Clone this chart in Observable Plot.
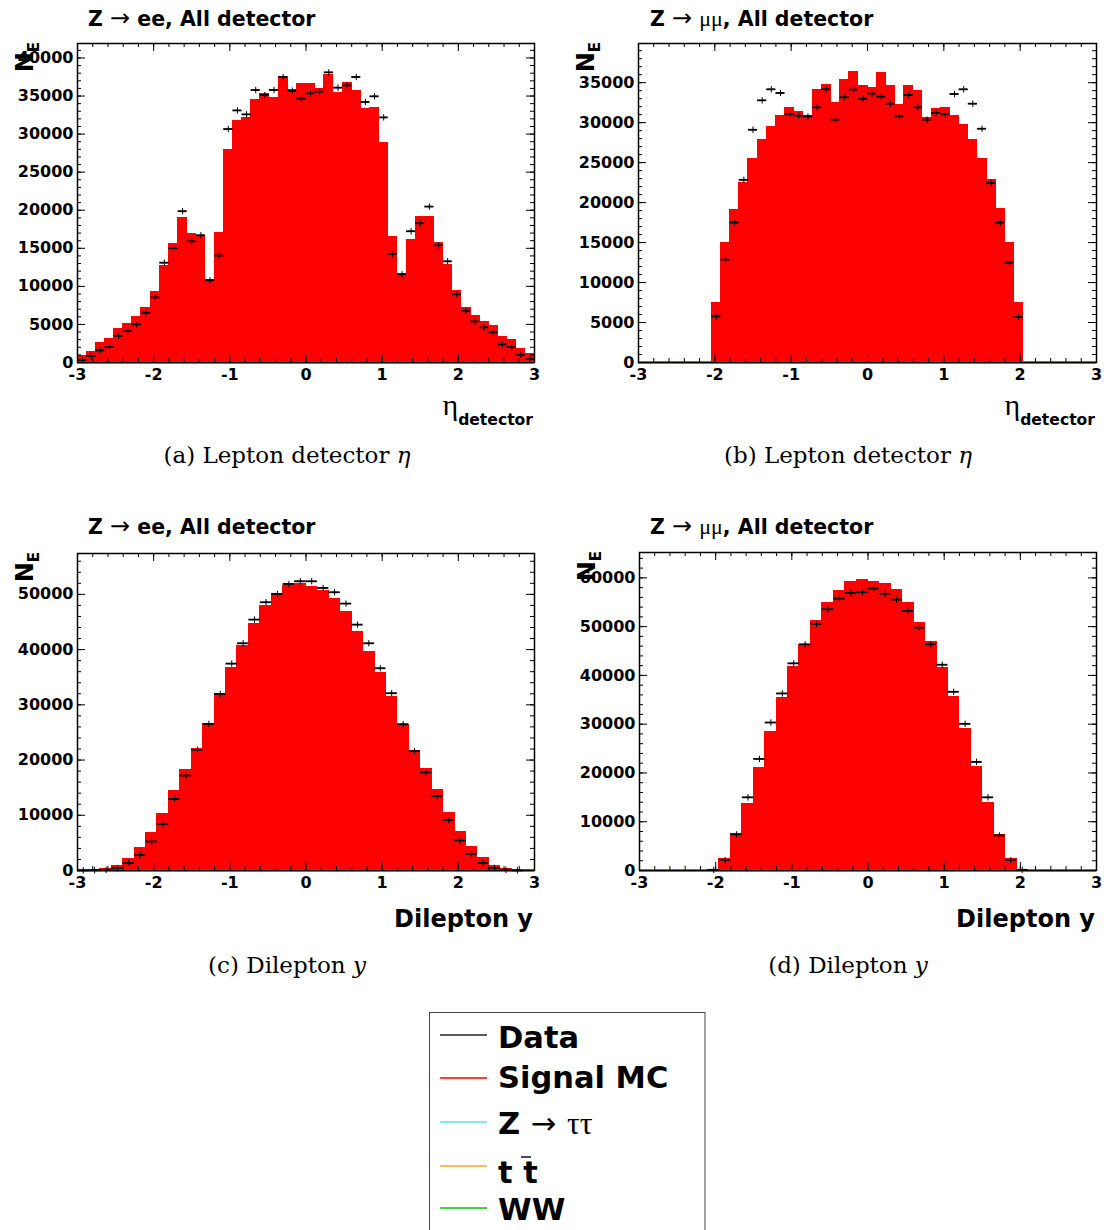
<!DOCTYPE html>
<html><head><meta charset="utf-8">
<script src="https://cdn.jsdelivr.net/npm/d3@7"></script>
<script src="https://cdn.jsdelivr.net/npm/@observablehq/plot@0.6"></script>
<style>
body{margin:0;background:#fff;}
#page{position:relative;width:1112px;height:1230px;overflow:hidden;background:#fff;}
.panel{position:absolute;}
#overlay{position:absolute;left:0;top:0;pointer-events:none;}
</style></head><body><div id="page"></div>
<script>
// ---- bins (lower edges) ----
const etaLow = [-3,-2.88,-2.76,-2.64,-2.52,-2.4,-2.28,-2.16,-2.04,-1.92,-1.8,-1.68,-1.56,-1.44,-1.32,-1.2,-1.08,-0.96,-0.84,-0.72,-0.6,-0.48,-0.36,-0.24,-0.12,0,0.12,0.24,0.36,0.48,0.6,0.72,0.84,0.96,1.08,1.2,1.32,1.44,1.56,1.68,1.8,1.92,2.04,2.16,2.28,2.4,2.52,2.64,2.76,2.88];
const etaWidth = 0.12;
const yLow = [-3,-2.85,-2.7,-2.55,-2.4,-2.25,-2.1,-1.95,-1.8,-1.65,-1.5,-1.35,-1.2,-1.05,-0.9,-0.75,-0.6,-0.45,-0.3,-0.15,0,0.15,0.3,0.45,0.6,0.75,0.9,1.05,1.2,1.35,1.5,1.65,1.8,1.95,2.1,2.25,2.4,2.55,2.7,2.85];
const yWidth = 0.15;

// ---- (a) Z->ee lepton detector eta ----
const eeEtaMC = [830,1400,2590,3070,4390,5000,5920,7110,9300,12630,15570,19040,16900,16600,10830,17060,27900,31710,32100,34520,35260,34740,37460,35840,36540,36540,35920,37810,35400,36670,35700,33250,33420,28860,16540,11620,16140,19170,19170,15660,12850,9390,7110,6050,5260,4740,3330,2940,1710,1100];
const eeEtaData = [310,830,1580,2060,3510,4120,5000,6540,8550,13110,15000,19870,15920,16710,10790,14040,30660,33110,32590,35790,35130,35790,37500,35700,34650,35350,35570,38110,36100,36400,37500,34210,34960,32190,14250,11580,17240,18290,20480,15390,13290,8950,6800,5390,4610,3950,2370,2020,1010,440];

// ---- (b) Z->mumu lepton detector eta ----
const mmEtaMC = [0,0,0,0,0,0,0,0,7435,15000,19130,22510,25440,27820,29490,30830,31870,31290,30830,34130,34670,32460,35380,36340,34540,34290,36260,34540,32250,34540,34000,30620,31660,31790,30830,29700,27860,25440,22850,19260,15000,7435,0,0,0,0,0,0,0,0];
const mmEtaData = [0,0,0,0,0,0,0,0,5760,12870,17500,22850,29110,32790,34170,33710,31040,30870,30780,31910,34170,30370,33170,34130,33000,33630,33250,32370,30780,33460,31910,30370,31200,31040,33580,34170,32370,29240,22470,17500,12490,5680,0,0,0,0,0,0,0,0];

// ---- (c) Z->ee dilepton y ----
const eeYMC = [50,120,300,900,2110,4100,6760,10260,14480,18280,21960,26610,31970,36740,40720,44580,47960,50070,51460,51880,51400,50680,49230,46820,43140,39520,35720,31490,26300,21720,18340,14600,10440,7060,4340,2290,900,300,120,60];
const eeYData = [20,60,120,420,1390,2780,5250,8390,12970,17190,21840,26550,31970,37460,41140,45430,48570,50070,51880,52370,52370,51160,50380,48330,44520,41140,36620,32100,26490,21600,17740,13450,9110,5430,2960,1390,480,120,20,0];

// ---- (d) Z->mumu dilepton y ----
const mmYMC = [0,0,0,0,0,0,40,2400,7400,13560,20960,28360,35410,41710,46300,51100,54860,57260,59180,59590,59250,58700,57470,54860,50820,46850,41440,35550,28970,21160,13840,7190,2400,40,0,0,0,0,0,0];
const mmYData = [0,0,0,0,0,0,140,2120,7400,15000,22880,30340,36300,42470,46370,50550,53560,55750,56920,57050,57810,56710,55550,53220,49790,46370,42190,36640,30070,22260,15000,7190,2120,140,0,0,0,0,0,0];

// ---- ticks / labels ----
const xTickLabels = [-3,-2,-1,0,1,2,3];
const yTicks5k = [0,5000,10000,15000,20000,25000,30000,35000,40000];
const yTicks10k = [0,10000,20000,30000,40000,50000,60000];
const titles = ["Z", "All detector"];
const captions = ["(a) Lepton detector ", "(b) Lepton detector ", "(c) Dilepton ", "(d) Dilepton "];
const legendLabels = ["Data", "Signal MC", "Z → ττ", "t t", "WW"];
const legendColors = ["#222222", "#ff0000", "#66dede", "#ffa726", "#00c800"];

const SANS = "DejaVu Sans";
const page = document.getElementById("page");

function makePanel(cfg) {
  const W = 556, H = 430;
  const {low, width, mc, data, yMax, yMajor, yMinorStep, left, top, ml, mr, mt, mb, xlab} = cfg;
  const rows = low.map((l, i) => ({x1: l, x2: +(l + width).toFixed(3), xc: l + width / 2, mc: mc[i], data: data[i]}));
  const drows = rows.filter(r => r.data > 0);
  const pw = W - ml - mr, ph = H - mt - mb;
  const xMinor = d3.range(-30, 31, 2).map(d => d / 10);
  const yMinor = d3.range(0, yMax, yMinorStep);
  const svg = Plot.plot({
    width: W, height: H,
    marginLeft: ml, marginRight: mr, marginTop: mt, marginBottom: mb,
    style: {fontFamily: SANS, fontWeight: "bold", fontSize: "16px", color: "black", background: "transparent", overflow: "visible"},
    x: {domain: [-3, 3], ticks: xTickLabels, tickSize: 0, tickPadding: 6, tickFormat: d => String(d), label: null},
    y: {domain: [0, yMax], ticks: yMajor, tickSize: 0, tickPadding: 4, tickFormat: d => String(d), label: null},
    marks: [
      Plot.rectY(rows, {x1: "x1", x2: "x2", y: "mc", fill: "#ff0000", stroke: "#ff0000", strokeWidth: 1, shapeRendering: "crispEdges"}),
      Plot.ruleY([0], {stroke: "#00c800", strokeWidth: 2.6}),
      Plot.ruleY(drows, {y: "data", x1: "x1", x2: "x2", stroke: "black", strokeWidth: 1.8}),
      Plot.dot(drows, {x: "xc", y: "data", symbol: "plus", r: 2.2, stroke: "black", strokeWidth: 1}),
      // inward ticks, x
      Plot.tickX(xTickLabels, {x: d => d, stroke: "black", strokeWidth: 1, insetTop: ph - 8}),
      Plot.tickX(xTickLabels, {x: d => d, stroke: "black", strokeWidth: 1, insetBottom: ph - 8}),
      Plot.tickX(xMinor, {x: d => d, stroke: "black", strokeWidth: 1, insetTop: ph - 4}),
      Plot.tickX(xMinor, {x: d => d, stroke: "black", strokeWidth: 1, insetBottom: ph - 4}),
      // inward ticks, y
      Plot.tickY(yMajor, {y: d => d, stroke: "black", strokeWidth: 1, insetRight: pw - 8}),
      Plot.tickY(yMajor, {y: d => d, stroke: "black", strokeWidth: 1, insetLeft: pw - 8}),
      Plot.tickY(yMinor, {y: d => d, stroke: "black", strokeWidth: 1, insetRight: pw - 4}),
      Plot.tickY(yMinor, {y: d => d, stroke: "black", strokeWidth: 1, insetLeft: pw - 4}),
      Plot.frame({stroke: "black", strokeWidth: 1.5})
    ]
  });
  const s = d3.select(svg);
  // y-axis title N_E (rotated)
  const yl = s.append("text")
    .attr("transform", `translate(${ml - 44},${mt - 1}) rotate(-90)`)
    .attr("text-anchor", "end")
    .style("font-family", SANS).style("font-weight", "bold").attr("fill", "black");
  yl.append("tspan").attr("font-size", 24).text("N");
  yl.append("tspan").attr("font-size", 15).attr("dy", 6).text("E");
  // x-axis title
  const xr = W - mr - 1;
  if (xlab === "eta") {
    const t = s.append("text").attr("x", xr).attr("y", 415).attr("text-anchor", "end").attr("fill", "black");
    t.append("tspan").style("font-family", "Liberation Serif").style("font-weight", "normal").attr("font-size", 30).text("η");
    t.append("tspan").style("font-family", SANS).style("font-weight", "bold").attr("font-size", 15.6).attr("dy", 10).text("detector");
  } else {
    s.append("text").attr("x", xr).attr("y", 419).attr("text-anchor", "end").attr("fill", "black")
      .style("font-family", SANS).style("font-weight", "bold").attr("font-size", 24).text("Dilepton y");
  }
  const div = document.createElement("div");
  div.className = "panel";
  div.style.left = left + "px";
  div.style.top = top + "px";
  div.appendChild(svg);
  page.appendChild(div);
}

makePanel({low: etaLow, width: etaWidth, mc: eeEtaMC, data: eeEtaData, yMax: 41900, yMajor: yTicks5k, yMinorStep: 1000,
  left: 0, top: 0, ml: 77, mr: 22, mt: 43, mb: 68, xlab: "eta"});
makePanel({low: etaLow, width: etaWidth, mc: mmEtaMC, data: mmEtaData, yMax: 39900, yMajor: yTicks5k.slice(0, 8), yMinorStep: 1000,
  left: 556, top: 0, ml: 82, mr: 16, mt: 43, mb: 68, xlab: "eta"});
makePanel({low: yLow, width: yWidth, mc: eeYMC, data: eeYData, yMax: 57400, yMajor: yTicks10k.slice(0, 6), yMinorStep: 2000,
  left: 0, top: 508, ml: 77, mr: 22, mt: 45, mb: 68, xlab: "y"});
makePanel({low: yLow, width: yWidth, mc: mmYMC, data: mmYData, yMax: 65200, yMajor: yTicks10k, yMinorStep: 2000,
  left: 556, top: 508, ml: 83, mr: 16, mt: 44, mb: 68, xlab: "y"});

// ---- overlay: titles, captions, legend ----
const ov = d3.select(page).append("svg").attr("id", "overlay").attr("width", 1112).attr("height", 1230)
  .style("white-space", "pre");

function title(x, y, lepton) {
  const t = ov.append("text").attr("x", x).attr("y", y).attr("fill", "black").attr("font-size", 20.5)
    .style("font-family", SANS).style("font-weight", "bold");
  t.append("tspan").text(titles[0] + " ");
  t.append("tspan").style("font-weight", "normal").attr("font-size", 24).text("→");
  if (lepton === "ee") {
    t.append("tspan").text(" ee, " + titles[1]);
  } else {
    t.append("tspan").text(" ");
    t.append("tspan").style("font-family", "Liberation Serif").style("font-weight", "normal").attr("font-size", 22).text("μμ");
    t.append("tspan").text(", " + titles[1]);
  }
}
title(88, 26, "ee");
title(650, 26, "mm");
title(88, 534, "ee");
title(650, 534, "mm");

function caption(cx, y, txt, sym) {
  const t = ov.append("text").attr("x", cx).attr("y", y).attr("text-anchor", "middle").attr("fill", "black")
    .attr("font-size", 23).style("font-family", "DejaVu Serif");
  t.append("tspan").text(txt);
  t.append("tspan").style("font-style", "italic").text(sym);
}
caption(287, 463, captions[0], "η");
caption(848, 463, captions[1], "η");
caption(287, 973, captions[2], "y");
caption(848, 973, captions[3], "y");

// legend box
ov.append("rect").attr("x", 429.5).attr("y", 1012.5).attr("width", 275.5).attr("height", 240)
  .attr("fill", "white").attr("stroke", "#444").attr("stroke-width", 1);
const lineY = [1035, 1078, 1122, 1166, 1208];
const textY = [1048, 1088, 1134, 1183, 1220];
legendLabels.forEach((lab, i) => {
  ov.append("line").attr("x1", 440).attr("x2", 487).attr("y1", lineY[i]).attr("y2", lineY[i])
    .attr("stroke", legendColors[i]).attr("stroke-width", 1.5);
  const t = ov.append("text").attr("x", 498).attr("y", textY[i]).attr("fill", "black").attr("font-size", 30.5)
    .style("font-family", SANS).style("font-weight", "bold");
  if (i === 2) {
    t.append("tspan").text("Z ");
    t.append("tspan").style("font-weight", "normal").text("→");
    t.append("tspan").text(" ");
    t.append("tspan").style("font-family", "Liberation Serif").style("font-weight", "normal").attr("font-size", 32).text("ττ");
  } else if (i === 3) {
    t.append("tspan").text(lab);
    // bar over second t
    ov.append("line").attr("x1", 521).attr("x2", 531).attr("y1", 1157).attr("y2", 1157)
      .attr("stroke", "black").attr("stroke-width", 1.4);
  } else {
    t.append("tspan").text(lab);
  }
});
</script></body></html>
